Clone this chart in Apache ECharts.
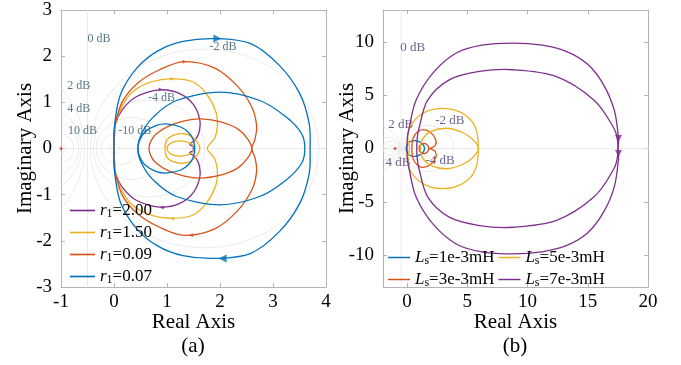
<!DOCTYPE html>
<html>
<head>
<meta charset="utf-8">
<script src="https://cdn.jsdelivr.net/npm/echarts@6/dist/echarts.min.js"></script>
<style>
  html, body { margin: 0; padding: 0; background: #fff; }
  #chart { width: 681px; height: 365px; }
</style>
</head>
<body>
<div id="chart"></div>
<script>
// colours (MATLAB default order)
const BLUE = '#0072BD';
const ORANGE = '#D95319';
const YELLOW = '#EDB120';
const PURPLE = '#7E2F8E';
const SERIF = '"Liberation Serif", "Times New Roman", serif';

// ---- (a) upper halves of each loop (real, imag) ----
const aNames = ['r1=2.00', 'r1=1.50', 'r1=0.09', 'r1=0.07'];
const aPurple = [
  [[0, 0], [0, 0.3], [0.03, 0.55], [0.17, 0.86], [0.42, 1.12], [0.86, 1.27], [1.24, 1.19], [1.5, 0.95], [1.62, 0.61], [1.6, 0.33], [1.52, 0.17], [1.43, 0.1], [1.47, 0.06], [1.52, 0.03], [1.49, 0]],
];
const aYellow = [
  [[0, 0], [0.01, 0.3], [0.05, 0.65], [0.3, 1.17], [0.67, 1.43], [1.11, 1.51], [1.49, 1.44], [1.74, 1.19], [1.92, 0.8], [1.95, 0.5], [1.9, 0.22], [1.76, 0]],
  [[0.96, 0], [0.99, 0.17], [1.1, 0.28], [1.3, 0.32], [1.47, 0.26], [1.58, 0.12], [1.62, 0]],
  [[1.0, 0], [1.05, 0.1], [1.18, 0.16], [1.35, 0.15], [1.48, 0.08], [1.52, 0]],
];
const aOrange = [
  [[0, 0], [0.01, 0.3], [0.03, 0.55], [0.16, 1.02], [0.45, 1.42], [0.85, 1.7], [1.33, 1.88], [1.9, 1.74], [2.33, 1.35], [2.6, 0.9], [2.69, 0.5], [2.66, 0.2], [2.6, 0]],
  [[0.66, 0], [0.7, 0.17], [0.8, 0.32], [1.02, 0.48], [1.33, 0.6], [1.65, 0.64], [2.03, 0.57], [2.34, 0.42], [2.52, 0.21], [2.6, 0]],
];
const aBlue = [
  [[0, 0], [0, 0.25], [0.02, 0.6], [0.13, 1.19], [0.43, 1.74], [0.82, 2.11], [1.3, 2.32], [1.93, 2.38], [2.58, 2.27], [3.12, 1.8], [3.5, 1.2], [3.68, 0.56], [3.7, 0]],
  [[0.45, 0], [0.52, 0.32], [0.74, 0.68], [1.18, 1.04], [1.99, 1.22], [2.75, 1.04], [3.25, 0.68], [3.54, 0.32], [3.6, 0]],
  [[0.45, 0], [0.48, 0.17], [0.58, 0.35], [0.8, 0.5], [1.02, 0.53], [1.27, 0.46], [1.42, 0.33], [1.49, 0.2], [1.52, 0.07], [1.52, 0]],
];
// direction arrows: x, y, rotation, colour, size
const aArrows = [
  [1.95, 2.38, -90, BLUE, 8], [2.05, -2.38, 90, BLUE, 8],
  [1.33, 1.88, -90, ORANGE, 4], [1.45, -1.88, 90, ORANGE, 4],
  [1.1, 1.51, -90, YELLOW, 4], [1.1, -1.52, 90, YELLOW, 4],
  [0.88, 1.28, -90, PURPLE, 4], [0.9, -1.28, 90, PURPLE, 4],
];
const aGridText = ['0 dB', '-2 dB', '2 dB', '4 dB', '10 dB', '-4 dB', '-10 dB'];
const aGridTextAt = [[-0.5, 2.37], [1.8, 2.2], [-0.88, 1.35], [-0.88, 0.86], [-0.87, 0.38], [0.64, 1.1], [0.08, 0.39]];

// ---- (b) ----
const bNames = ['Ls=1e-3mH', 'Ls=5e-3mH', 'Ls=3e-3mH', 'Ls=7e-3mH'];
const bBlue = [
  [[-0.08, 0], [0.02, 0.4], [0.3, 0.68], [0.7, 0.74], [1.1, 0.58], [1.38, 0.28], [1.44, 0]],
];
const bOrange = [
  [[0.4, 0], [0.48, 0.9], [0.85, 1.55], [1.35, 1.78], [1.95, 1.5], [2.38, 0.85], [2.35, 0.3], [2.0, 0.05], [1.8, 0]],
  [[1.0, 0], [1.1, 0.35], [1.4, 0.48], [1.7, 0.3], [1.8, 0]],
];
const bYellow = [
  [[0.2, 0], [0.08, 0.7], [0.07, 1.41], [0.38, 2.3], [1.05, 3.1], [1.9, 3.6], [2.97, 3.77], [4.0, 3.6], [4.88, 3.1], [5.5, 2.35], [5.8, 1.5], [5.92, 0]],
  [[1.1, 0], [1.3, 0.9], [2.0, 1.6], [3.3, 1.9], [4.6, 1.5], [5.5, 0.8], [5.92, 0]],
];
const bPurple = [
  [[0, 0], [0.02, 1.0], [0.19, 2.04], [0.75, 4.56], [2.14, 7.08], [4.08, 8.96], [6.2, 9.7], [8.8, 9.9], [11.2, 9.7], [13.25, 9.1], [15.0, 7.9], [16.3, 6.0], [17.2, 3.6], [17.55, 0.94], [17.5, 0]],
  [[0.8, 0], [0.85, 1.0], [1.02, 2.04], [1.72, 4.56], [3.5, 6.44], [6.0, 7.23], [8.8, 7.39], [12.4, 6.75], [15.5, 4.56], [17.1, 2.04], [17.45, 0.9], [17.5, 0]],
];
const bArrows = [[17.55, 0.94, 180, PURPLE, 7], [17.55, -0.47, 180, PURPLE, 7]];
const bGridText = ['0 dB', '2 dB', '-2 dB', '4 dB', '-4 dB'];
const bGridTextAt = [[-0.56, 9.43], [-1.56, 2.2], [2.33, 2.6], [-1.8, -1.32], [1.53, -1.17]];

// M-circle levels of the nyquist grid
const gridDb = [-20, -10, -6, -4, -2, 0, 2, 4, 6, 10, 20];
const bXTicks = [0, 5, 10, 15, 20];
const bYTicks = [-10, -5, 0, 5, 10];

// nyquist curves are symmetric about the real axis
const closeLoop = (upper) => {
  const lower = upper.slice().reverse().map((p) => [p[0], -p[1]]);
  return upper.concat(lower.slice(1, lower.length - 1));
};

// closed catmull-rom path through pixel points
const loopPath = (P) => {
  const m = P.length;
  let d = `M${P[0][0]},${P[0][1]}`;
  for (let i = 0; i < m; i++) {
    const p0 = P[(i - 1 + m) % m], p1 = P[i], p2 = P[(i + 1) % m], p3 = P[(i + 2) % m];
    d += `C${p1[0] + (p2[0] - p0[0]) / 6},${p1[1] + (p2[1] - p0[1]) / 6} `
      + `${p2[0] - (p3[0] - p1[0]) / 6},${p2[1] - (p3[1] - p1[1]) / 6} ${p2[0]},${p2[1]}`;
  }
  return d;
};

const mCircle = (db) => {
  if (db === 0) return [[-0.5, -60], [-0.5, 60]];
  const m = Math.pow(10, db / 20);
  const c = -m * m / (m * m - 1);
  const r = Math.abs(m / (m * m - 1));
  const pts = [];
  for (let i = 0; i <= 160; i++) {
    const t = (i / 160) * Math.PI * 2;
    pts.push([c + r * Math.cos(t), r * Math.sin(t)]);
  }
  return pts;
};

const series = [];
const addGrid = (xi, yi) => {
  gridDb.concat(['axis']).forEach((db) => {
    series.push({
      type: 'line', xAxisIndex: xi, yAxisIndex: yi, silent: true, symbol: 'none', z: 1,
      data: db === 'axis' ? [[-60, 0], [60, 0]] : mCircle(db),
      lineStyle: { color: '#e6e6e6', width: 0.8 },
    });
  });
  series.push({
    type: 'scatter', xAxisIndex: xi, yAxisIndex: yi, silent: true, symbolSize: 3, z: 2,
    itemStyle: { color: '#e03030' }, data: [[-1, 0]],
  });
};
const addCurves = (name, loops, color, xi, yi) => {
  const closed = loops.map(closeLoop);
  series.push({
    name, type: 'custom', xAxisIndex: xi, yAxisIndex: yi, silent: true, clip: true, z: 3,
    itemStyle: { color },
    data: closed.map((loop, i) => [i, 0]),
    renderItem: (params, api) => {
      const pts = closed[api.value(0)].map((p) => api.coord(p));
      return {
        type: 'path',
        shape: { pathData: loopPath(pts) },
        style: { fill: 'none', stroke: color, lineWidth: 1.3 },
      };
    },
  });
};
const addArrows = (arrows, xi, yi) => {
  series.push({
    type: 'scatter', xAxisIndex: xi, yAxisIndex: yi, silent: true, symbol: 'triangle', z: 4,
    data: arrows.map((a) => ({ value: [a[0], a[1]], symbolRotate: a[2], symbolSize: a[4], itemStyle: { color: a[3] } })),
  });
};
const addLabels = (texts, at, color, size, xi, yi) => {
  series.push({
    type: 'scatter', xAxisIndex: xi, yAxisIndex: yi, silent: true, symbolSize: 0, z: 2,
    data: at.map((p, i) => ({ value: p, name: texts[i] })),
    label: { show: true, position: 'right', distance: 0, formatter: '{b}', color, fontSize: size, fontFamily: SERIF },
  });
};

addGrid(0, 0);
addLabels(aGridText, aGridTextAt, '#2a5566', 12, 0, 0);
addCurves(aNames[0], aPurple, PURPLE, 0, 0);
addCurves(aNames[1], aYellow, YELLOW, 0, 0);
addCurves(aNames[2], aOrange, ORANGE, 0, 0);
addCurves(aNames[3], aBlue, BLUE, 0, 0);
addArrows(aArrows, 0, 0);

addGrid(2, 2);
addLabels(bGridText, bGridTextAt, '#46386a', 13, 2, 2);
addCurves(bNames[0], bBlue, BLUE, 2, 2);
addCurves(bNames[2], bOrange, ORANGE, 2, 2);
addCurves(bNames[1], bYellow, YELLOW, 2, 2);
addCurves(bNames[3], bPurple, PURPLE, 2, 2);
addArrows(bArrows, 2, 2);

const boxLine = { show: true, onZero: false, lineStyle: { color: '#b4b4b4', width: 1 } };
const tick = { show: true, inside: true, length: 4, lineStyle: { color: '#b4b4b4' } };
const tickLabel = { color: '#000', fontSize: 19, fontFamily: SERIF };
const nameStyle = { color: '#000', fontSize: 21, fontFamily: SERIF };

const xAxis = [
  { gridIndex: 0, type: 'value', min: -1, max: 4, interval: 1, axisLine: boxLine, axisTick: tick,
    axisLabel: { ...tickLabel, margin: 6 }, splitLine: { show: false },
    name: 'Real Axis', nameLocation: 'middle', nameGap: 25, nameMoveOverlap: false, nameTextStyle: nameStyle },
  { gridIndex: 0, type: 'value', position: 'top', min: -1, max: 4, interval: 1, axisLine: boxLine, axisTick: tick,
    axisLabel: { show: false }, splitLine: { show: false } },
  { gridIndex: 1, type: 'value', min: -2, max: 20, axisLine: boxLine,
    axisTick: { ...tick, customValues: bXTicks },
    axisLabel: { ...tickLabel, margin: 6, customValues: bXTicks }, splitLine: { show: false },
    name: 'Real Axis', nameLocation: 'middle', nameGap: 25, nameMoveOverlap: false, nameTextStyle: nameStyle },
  { gridIndex: 1, type: 'value', position: 'top', min: -2, max: 20, axisLine: boxLine,
    axisTick: { ...tick, customValues: bXTicks }, axisLabel: { show: false }, splitLine: { show: false } },
];
const yAxis = [
  { gridIndex: 0, type: 'value', min: -3, max: 3, interval: 1, axisLine: boxLine, axisTick: tick,
    axisLabel: { ...tickLabel, margin: 9 }, splitLine: { show: false },
    name: 'Imaginary Axis', nameLocation: 'middle', nameGap: 25, nameMoveOverlap: false, nameTextStyle: nameStyle },
  { gridIndex: 0, type: 'value', position: 'right', min: -3, max: 3, interval: 1, axisLine: boxLine, axisTick: tick,
    axisLabel: { show: false }, splitLine: { show: false } },
  { gridIndex: 1, type: 'value', min: -13, max: 13, axisLine: boxLine,
    axisTick: { ...tick, customValues: bYTicks },
    axisLabel: { ...tickLabel, margin: 9, customValues: bYTicks }, splitLine: { show: false },
    name: 'Imaginary Axis', nameLocation: 'middle', nameGap: 25, nameMoveOverlap: false, nameTextStyle: nameStyle },
  { gridIndex: 1, type: 'value', position: 'right', min: -13, max: 13, axisLine: boxLine,
    axisTick: { ...tick, customValues: bYTicks }, axisLabel: { show: false }, splitLine: { show: false } },
];

const legendRich = {
  i: { fontStyle: 'italic', fontSize: 17, fontFamily: SERIF, color: '#000' },
  s: { fontSize: 12, fontFamily: SERIF, color: '#000', padding: [7, 0, 0, 0] },
};
const legendText = (name) => {
  const [head, rest] = name.split('=');
  return `{i|${head[0]}}{s|${head.slice(1)}}=${rest}`;
};
const lineIcon = 'path://M0,0L30,0L30,2L0,2Z';

const chart = echarts.init(document.getElementById('chart'), null, { renderer: 'canvas' });
chart.setOption({
  animation: false,
  backgroundColor: '#fff',
  grid: [
    { left: 61, top: 10, width: 265, height: 277 },
    { left: 383, top: 10, width: 265, height: 277 },
  ],
  xAxis,
  yAxis,
  legend: [
    { data: aNames.slice(), orient: 'vertical', left: 65, top: 197, itemGap: 4, icon: lineIcon,
      itemWidth: 25, itemHeight: 2, formatter: legendText,
      textStyle: { fontSize: 17, fontFamily: SERIF, color: '#000', rich: legendRich } },
    { data: bNames.slice(), orient: 'horizontal', left: 383, top: 244, width: 250, icon: lineIcon,
      itemGap: 4, itemWidth: 22, itemHeight: 2, formatter: legendText,
      textStyle: { fontSize: 17, fontFamily: SERIF, color: '#000', rich: legendRich } },
  ],
  graphic: [
    { type: 'text', x: 193, y: 346, style: { text: '(a)', fontSize: 21, fontFamily: SERIF, fill: '#000', align: 'center', verticalAlign: 'middle' } },
    { type: 'text', x: 515, y: 346, style: { text: '(b)', fontSize: 21, fontFamily: SERIF, fill: '#000', align: 'center', verticalAlign: 'middle' } },
  ],
  series,
});
</script>
</body>
</html>
